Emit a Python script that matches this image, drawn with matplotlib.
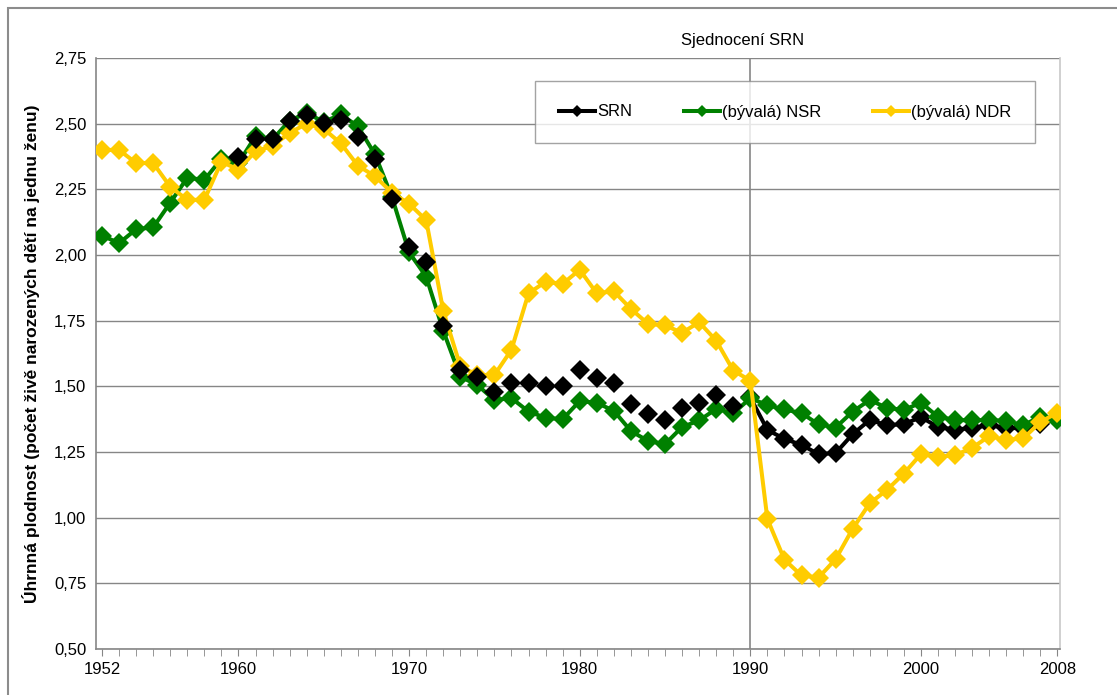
import matplotlib
matplotlib.use("Agg")
import matplotlib.pyplot as plt
from matplotlib.patches import Rectangle
from matplotlib.lines import Line2D
import numpy as np

plt.rcParams['font.family'] = ['Liberation Sans', 'DejaVu Sans']

years = list(range(1952, 2009))

ndr = [2.40, 2.40, 2.35, 2.35, 2.26, 2.21, 2.21, 2.355, 2.325, 2.395,
       2.415, 2.465, 2.50, 2.48, 2.425, 2.34, 2.30, 2.237, 2.195, 2.133,
       1.788, 1.577, 1.543, 1.543, 1.639, 1.854, 1.898, 1.89, 1.944, 1.854,
       1.862, 1.795, 1.738, 1.732, 1.704, 1.744, 1.674, 1.56, 1.522, 0.995,
       0.84, 0.78, 0.772, 0.842, 0.958, 1.055, 1.105, 1.168, 1.242, 1.232,
       1.238, 1.266, 1.31, 1.296, 1.302, 1.364, 1.40]

nsr = [2.074, 2.045, 2.098, 2.105, 2.199, 2.294, 2.286, 2.366, 2.35, 2.452,
       2.44, 2.512, 2.54, 2.507, 2.535, 2.49, 2.383, 2.22, 2.01, 1.918,
       1.712, 1.537, 1.505, 1.448, 1.455, 1.404, 1.38, 1.375, 1.444, 1.437,
       1.407, 1.33, 1.292, 1.28, 1.345, 1.37, 1.414, 1.397, 1.455, 1.428,
       1.412, 1.398, 1.355, 1.343, 1.404, 1.448, 1.418, 1.41, 1.438, 1.384,
       1.372, 1.37, 1.372, 1.368, 1.352, 1.385, 1.37]

# SRN: markers only 1960-1989, line with markers 1990-2008
srn_years_early = list(range(1960, 1990))
srn_early = [2.374, 2.44, 2.44, 2.51, 2.533, 2.504, 2.514, 2.45, 2.364, 2.212,
             2.032, 1.972, 1.731, 1.562, 1.536, 1.48, 1.513, 1.513, 1.503, 1.503,
             1.562, 1.532, 1.513, 1.433, 1.395, 1.37, 1.418, 1.437, 1.467, 1.427]
srn_years_late = list(range(1990, 2009))
srn_late = [1.458, 1.334, 1.30, 1.277, 1.242, 1.246, 1.318, 1.372, 1.352, 1.356,
            1.383, 1.345, 1.335, 1.342, 1.352, 1.342, 1.34, 1.355, 1.378]

y_ticks = [0.50, 0.75, 1.00, 1.25, 1.50, 1.75, 2.00, 2.25, 2.50, 2.75]
x_major = [1952, 1960, 1970, 1980, 1990, 2000, 2008]

BLACK = '#000000'
GREEN = '#008000'
YELLOW = '#FFCC00'
GRID = '#868686'

W, H = 1117, 695
fig = plt.figure(figsize=(W / 100, H / 100), dpi=100)
fig.patch.set_facecolor('white')

# outer chart frame
fig.patches.append(Rectangle((8 / W, -0.1), 1.2, 1 - 8 / H + 0.1, transform=fig.transFigure,
                             fill=False, edgecolor='#8c8c8c', linewidth=1.5))

ax = fig.add_axes([96 / W, 1 - 649 / H, (1060 - 96) / W, (649 - 58) / H])
ax.set_xlim(1951.65, 2008.15)
ax.set_ylim(0.5, 2.75)

for v in y_ticks:
    ax.axhline(v, color=GRID, linewidth=1.0, zorder=1)
ax.axvline(1990, color=GRID, linewidth=1.2, zorder=1)

lw = 2.9
ms = 10
ax.plot(years, nsr, color=GREEN, linewidth=lw, marker='D', markersize=ms,
        markeredgewidth=0, zorder=3)
ax.plot(years, ndr, color=YELLOW, linewidth=lw, marker='D', markersize=ms,
        markeredgewidth=0, zorder=4)
ax.plot(srn_years_early, srn_early, linestyle='none', marker='D', color=BLACK,
        markersize=ms, markeredgewidth=0, zorder=5)
ax.plot(srn_years_late, srn_late, color=BLACK, linewidth=lw, marker='D',
        markersize=ms, markeredgewidth=0, zorder=2.5)

ax.set_yticks(y_ticks)
ax.set_yticklabels([f"{v:.2f}".replace('.', ',') for v in y_ticks], fontsize=12)
ax.set_xticks(x_major)
ax.set_xticklabels([str(x) for x in x_major], fontsize=12)
ax.set_xticks(years, minor=True)
ax.tick_params(axis='y', length=0, pad=7)
ax.tick_params(axis='x', which='both', length=5, color=GRID, direction='out', pad=4)

for side in ['left', 'bottom']:
    ax.spines[side].set_color(GRID)
    ax.spines[side].set_linewidth(1.2)
ax.spines['top'].set_visible(False)
ax.spines['right'].set_color('#c8c8c8')
ax.spines['right'].set_linewidth(1.2)

ax.set_ylabel("Úhrnná plodnost (počet živě narozených dětí na jednu ženu)",
              fontsize=12.5, fontweight='bold', labelpad=10)

fig.text(743 / W, 1 - 40 / H, "Sjednocení SRN", fontsize=12, ha='center', va='center')

handles = [
    Line2D([], [], color=BLACK, linewidth=lw, marker='D', markersize=6, markeredgewidth=0),
    Line2D([], [], color=GREEN, linewidth=lw, marker='D', markersize=6, markeredgewidth=0),
    Line2D([], [], color=YELLOW, linewidth=lw, marker='D', markersize=6, markeredgewidth=0),
]
leg = fig.legend(handles, ["SRN", "(bývalá) NSR", "(bývalá) NDR"], ncol=3,
                 loc='center', bbox_to_anchor=(527 / W, 1 - 142 / H, 516 / W, 60 / H),
                 bbox_transform=fig.transFigure,
                 mode='expand', fontsize=12, frameon=True, fancybox=False,
                 edgecolor='#8c8c8c', handlelength=2.2, handletextpad=0.1,
                 borderpad=1.4, columnspacing=2.5)
leg.get_frame().set_linewidth(1.0)
leg.set_zorder(10)

fig.savefig("out.png", dpi=100, facecolor='white')
